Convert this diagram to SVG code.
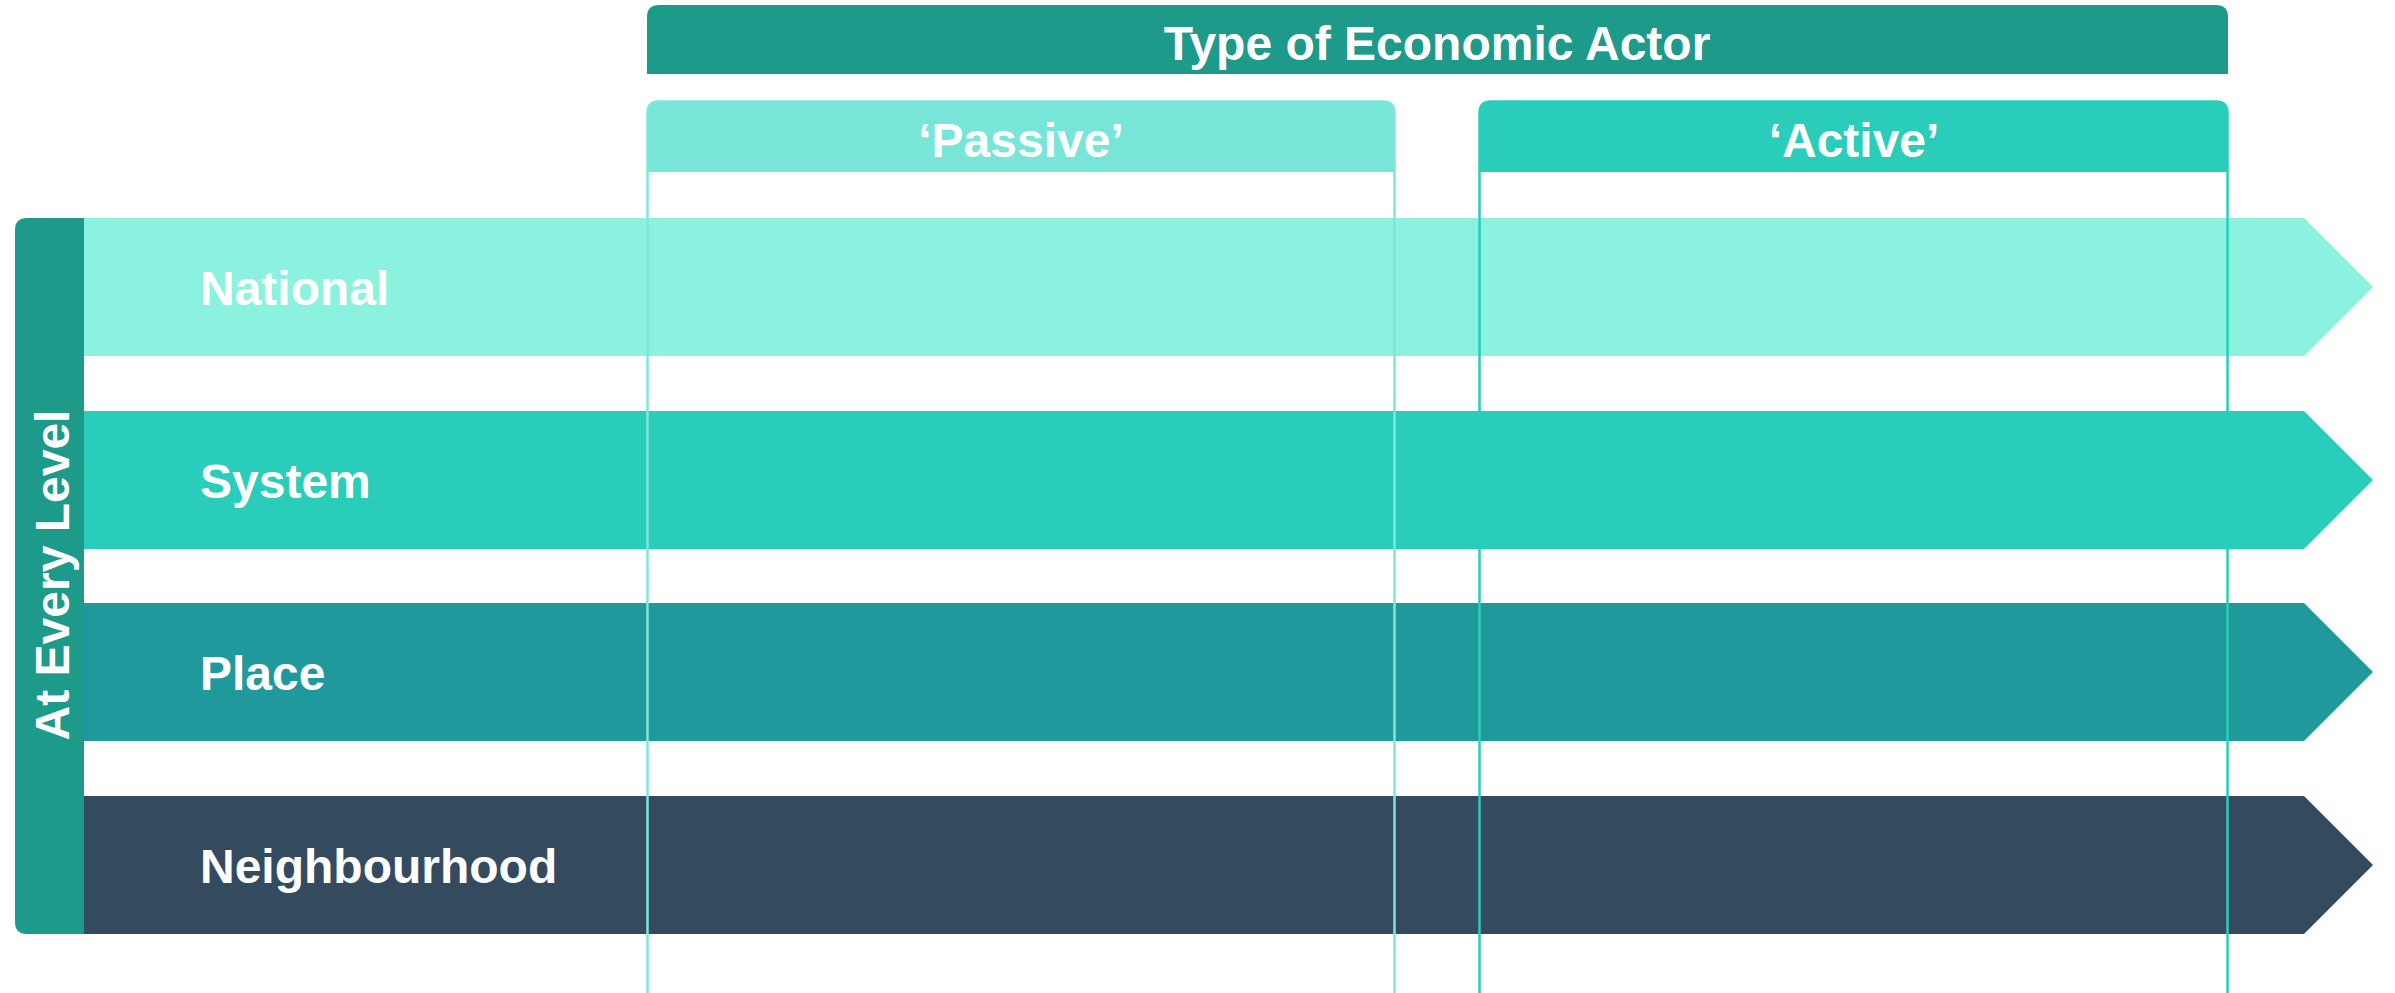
<svg xmlns="http://www.w3.org/2000/svg" width="2395" height="993" viewBox="0 0 2395 993">
<style>
.t{font-family:"Liberation Sans",Arial,sans-serif;font-weight:bold;font-size:48px;fill:#ffffff}
.c{text-anchor:middle}
</style>
<rect width="2395" height="993" fill="#ffffff"/>
<g id="header-type">
<path d="M647,74 V17 Q647,5 659,5 H2216 Q2228,5 2228,17 V74 Z" fill="#1E9A8A"/>
<text class="t c" x="1437" y="60">Type of Economic Actor</text>
</g>
<g id="header-passive">
<path d="M647,172 V113 Q647,101 659,101 H1383 Q1395,101 1395,113 V172 Z" fill="#77E5D8"/>
</g>
<g id="header-active">
<path d="M1479,172 V113 Q1479,101 1491,101 H2216 Q2228,101 2228,113 V172 Z" fill="#29CDB9"/>
</g>
<g id="left-bar">
<path d="M84,218 V934 H27 Q15,934 15,922 V230 Q15,218 27,218 Z" fill="#1E9A8A"/>
<text class="t c" transform="translate(69,575) rotate(-90)" x="0" y="0">At Every Level</text>
</g>
<g id="band-national">
<path d="M84,218 H2304 L2373,287 L2304,356 H84 Z" fill="#8AF2DE"/>
</g>
<g id="band-system">
<path d="M84,411 H2304 L2373,480 L2304,549 H84 Z" fill="#29CDB9"/>
</g>
<g id="band-place">
<path d="M84,603 H2304 L2373,672 L2304,741 H84 Z" fill="#20999D"/>
</g>
<g id="band-neighbourhood">
<path d="M84,796 H2304 L2373,865 L2304,934 H84 Z" fill="#344B5F"/>
</g>
<g id="connectors" fill="none" stroke-width="2.5">
<path d="M647.5,993 V113 Q647.5,101.5 659,101.5 H1383 Q1394.5,101.5 1394.5,113 V993" stroke="#7FE6DA"/>
<path d="M1479.5,993 V113 Q1479.5,101.5 1491,101.5 H2216 Q2227.5,101.5 2227.5,113 V993" stroke="#29CDB9"/>
</g>
<g id="labels">
<text class="t c" x="1021" y="157">‘Passive’</text>
<text class="t c" x="1854" y="157">‘Active’</text>
<text class="t" x="200" y="305">National</text>
<text class="t" x="200" y="498">System</text>
<text class="t" x="200" y="690">Place</text>
<text class="t" x="200" y="883">Neighbourhood</text>
</g>
</svg>
